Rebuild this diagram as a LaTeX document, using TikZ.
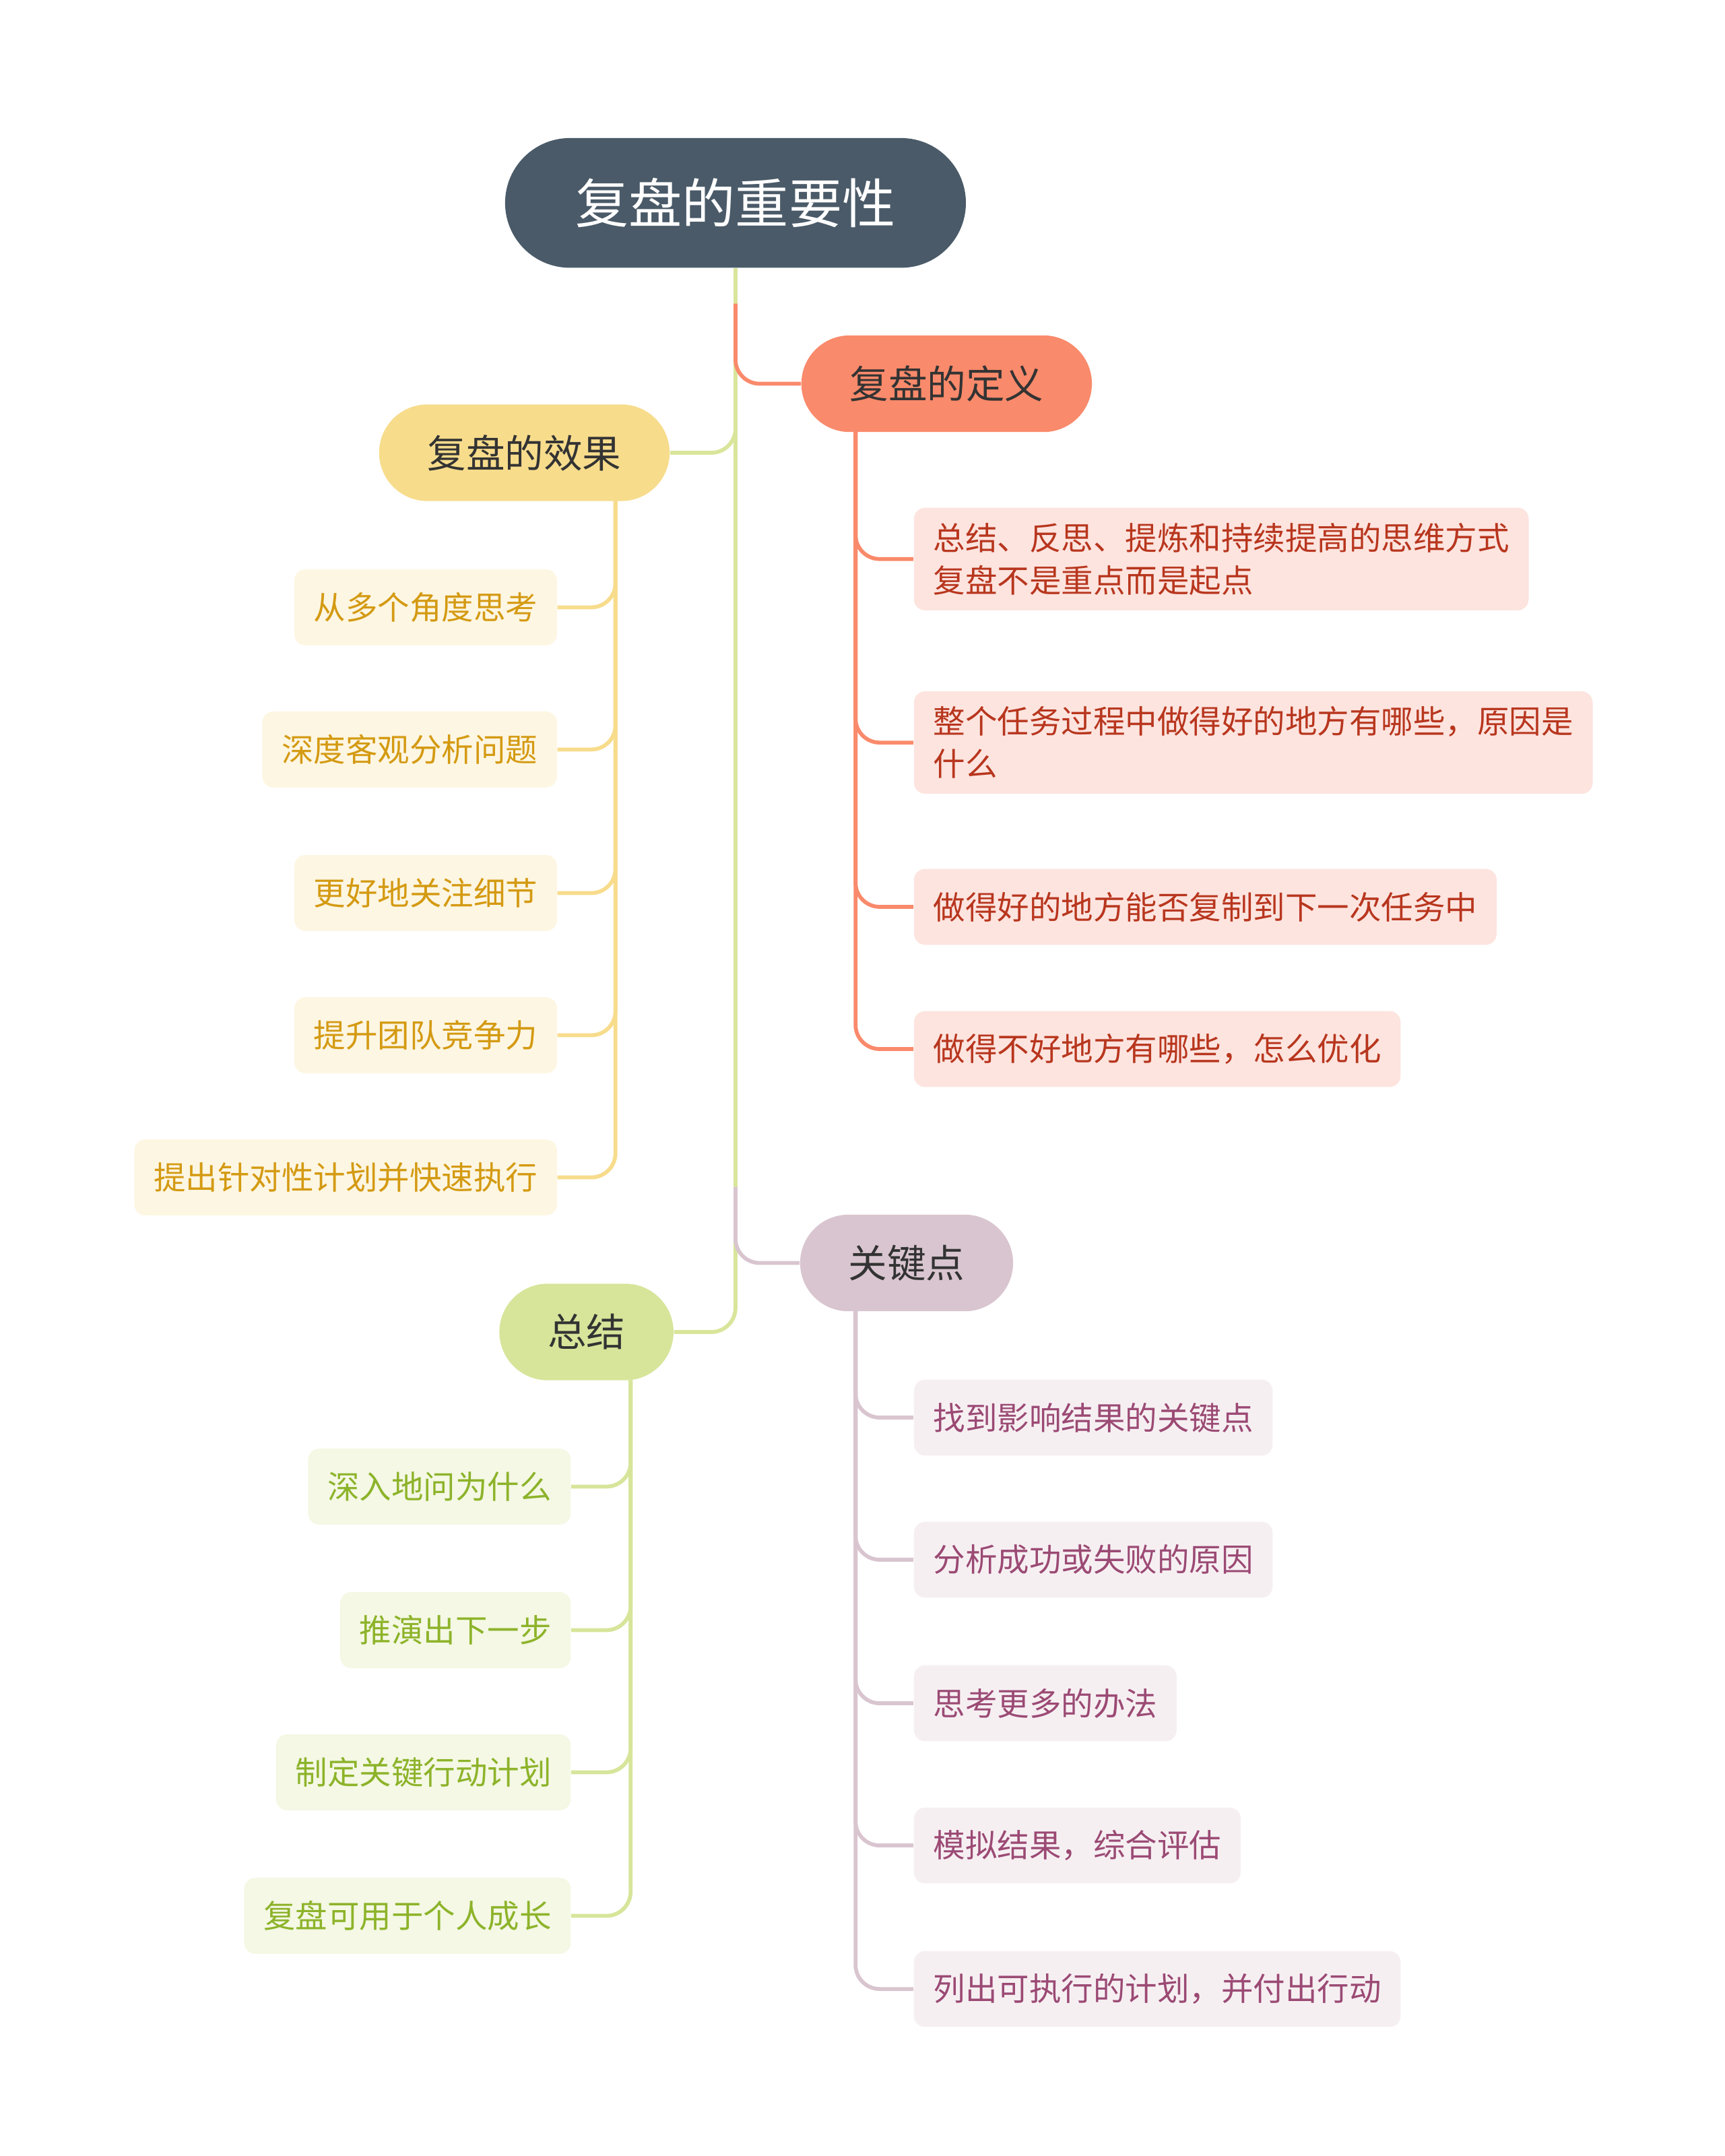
\documentclass[tikz,border=0pt]{standalone}
\usepackage{fontspec}
\setmainfont{Noto Sans CJK SC}
\usetikzlibrary{positioning,calc}
\definecolor{rootC}{HTML}{4A5A68}
\definecolor{trunkC}{HTML}{D9E59A}
\definecolor{defC}{HTML}{F98A6B}
\definecolor{defT}{HTML}{B8361E}
\definecolor{defF}{HTML}{FDE4DF}
\definecolor{effC}{HTML}{F7DC8C}
\definecolor{effT}{HTML}{D49A12}
\definecolor{effF}{HTML}{FDF6E2}
\definecolor{keyC}{HTML}{D9C5CF}
\definecolor{keyT}{HTML}{9B4A74}
\definecolor{keyF}{HTML}{F6EFF2}
\definecolor{sumC}{HTML}{D6E59A}
\definecolor{sumT}{HTML}{8DB32A}
\definecolor{sumF}{HTML}{F4F8E4}
\tikzset{
  branch/.style={rounded corners=0.7cm,minimum height=1.4cm,inner xsep=0.7cm,font=\fontsize{16}{18}\selectfont,text=black!80},
  leaf/.style={rounded corners=0.16cm,minimum height=1.1cm,inner xsep=0.28cm,inner ysep=0.22cm,align=left,font=\fontsize{13.2}{17.5}\selectfont},
  link/.style={line width=1.6pt,rounded corners=0.35cm}
}
\begin{document}
\begin{tikzpicture}[x=0.02cm,y=-0.02cm]
  \useasboundingbox (0,0) rectangle (1250,1562);

  % root and branches
  \node[fill=rootC,text=white,rounded corners=0.94cm,minimum width=6.68cm,minimum height=1.88cm,font=\fontsize{22}{26}\selectfont] (root) at (533,147) {复盘的重要性};
  \node[branch,fill=defC] (def) at (686,278) {复盘的定义};
  \node[branch,fill=effC] (eff) at (380,328) {复盘的效果};
  \node[branch,fill=keyC] (key) at (657,915) {关键点};
  \node[branch,fill=sumC] (sum) at (425,965) {总结};

  \draw[link,trunkC] (root.south) |- (sum.east);
  \draw[link,trunkC] (root.south) |- (eff.east);
  \draw[link,defC] (533,220) |- (def.west);
  \draw[link,keyC] (533,860) |- (key.west);

  % right side leaves
  \coordinate (defTop) at (620,313);
  \foreach \y/\t [count=\i] in {405/{总结、反思、提炼和持续提高的思维方式\\复盘不是重点而是起点},538/{整个任务过程中做得好的地方有哪些，原因是\\什么},657/{做得好的地方能否复制到下一次任务中},760/{做得不好地方有哪些，怎么优化}}
  {
    \node[leaf,fill=defF,text=defT,anchor=west] (def\i) at (662,\y) {\t};
    \draw[link,defC] (defTop) |- (def\i.west);
  }
  \coordinate (keyTop) at (620,950);
  \foreach \y/\t [count=\i] in {1027/找到影响结果的关键点,1130/分析成功或失败的原因,1234/思考更多的办法,1337/{模拟结果，综合评估},1441/{列出可执行的计划，并付出行动}}
  {
    \node[leaf,fill=keyF,text=keyT,anchor=west] (key\i) at (662,\y) {\t};
    \draw[link,keyC] (keyTop) |- (key\i.west);
  }

  % left side leaves
  \coordinate (effTop) at (446,363);
  \foreach \y/\t [count=\i] in {440/从多个角度思考,543/深度客观分析问题,647/更好地关注细节,750/提升团队竞争力,853/提出针对性计划并快速执行}
  {
    \node[leaf,fill=effF,text=effT,anchor=east] (eff\i) at (404,\y) {\t};
    \draw[link,effC] (effTop) |- (eff\i.east);
  }
  \coordinate (sumTop) at (457,1000);
  \foreach \y/\t [count=\i] in {1077/深入地问为什么,1181/推演出下一步,1284/制定关键行动计划,1388/复盘可用于个人成长}
  {
    \node[leaf,fill=sumF,text=sumT,anchor=east] (sum\i) at (414,\y) {\t};
    \draw[link,sumC] (sumTop) |- (sum\i.east);
  }
\end{tikzpicture}
\end{document}
